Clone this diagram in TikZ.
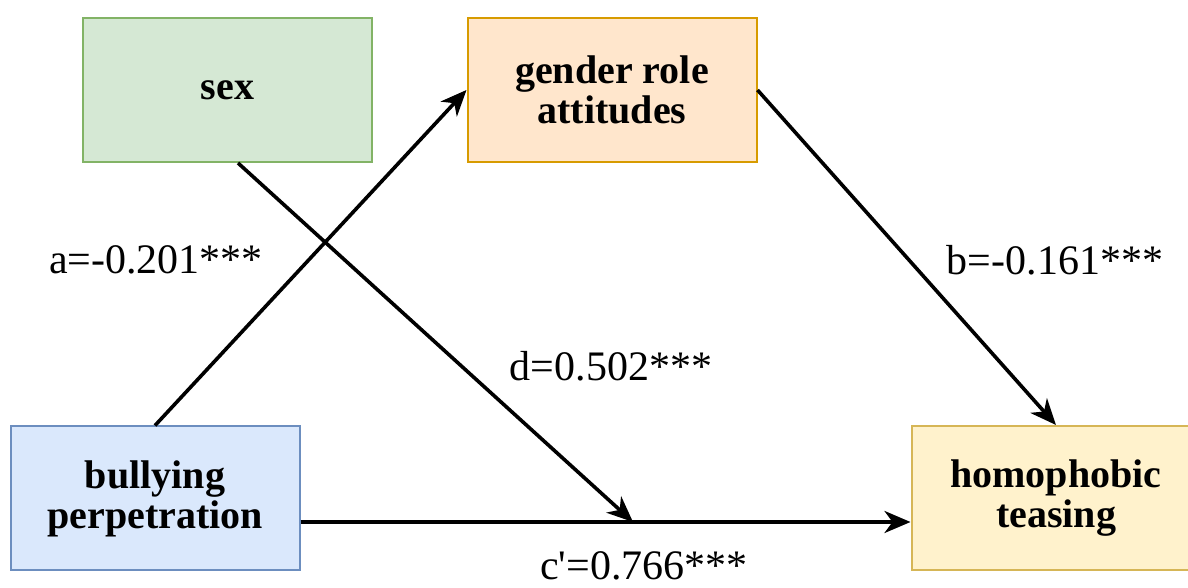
\documentclass[tikz,border=0pt]{standalone}
\usepackage{fontspec}
\setmainfont{Liberation Serif}
\usetikzlibrary{arrows.meta}
\definecolor{sexfill}{HTML}{D5E8D4}\definecolor{sexdraw}{HTML}{82B366}
\definecolor{genfill}{HTML}{FFE6CC}\definecolor{gendraw}{HTML}{D79B00}
\definecolor{bulfill}{HTML}{DAE8FC}\definecolor{buldraw}{HTML}{6C8EBF}
\definecolor{homfill}{HTML}{FFF2CC}\definecolor{homdraw}{HTML}{D6B656}
\tikzset{
  boxnode/.style={rectangle, line width=2pt, minimum width=289pt, minimum height=144pt,
    inner sep=0pt, align=center, font=\fontsize{40}{40}\selectfont\bfseries},
  lbl/.style={inner sep=0pt, font=\fontsize{42}{42}\selectfont},
  conn/.style={line width=3.6pt, -{Stealth[length=26pt,width=22pt,inset=8pt]}},
}
\begin{document}
\begin{tikzpicture}[x=1pt,y=1pt]
\clip (0,0) rectangle (1188,588);
\fill[white] (0,0) rectangle (1188,588);
\node[boxnode, fill=sexfill, draw=sexdraw] (sex) at (227.5,498) {sex};
\node[boxnode, fill=genfill, draw=gendraw] (gen) at (612,498) {gender role\\attitudes};
\node[boxnode, fill=bulfill, draw=buldraw] (bul) at (155,89.5) {bullying\\perpetration};
\node[boxnode, fill=homfill, draw=homdraw] (hom) at (1056,90) {homophobic\\teasing};
\coordinate (s1) at ([xshift=10.5pt]sex.south);
\coordinate (m) at (633,66);
\draw[conn] (bul.north) -- (gen.west);
\draw[conn] (gen.east) -- (hom.north);
\draw[conn] ([yshift=-23.5pt]bul.east) -- ([yshift=-24pt]hom.west);
\draw[conn] (s1) -- (m);
\node[lbl] (la) at (156,328) {a=-0.201***};
\node[lbl] (lb) at (1055,328) {b=-0.161***};
\node[lbl] (ld) at (611,222) {d=0.502***};
\node[lbl] (lc) at (644,22) {c\textquotesingle=0.766***};
\end{tikzpicture}
\end{document}
